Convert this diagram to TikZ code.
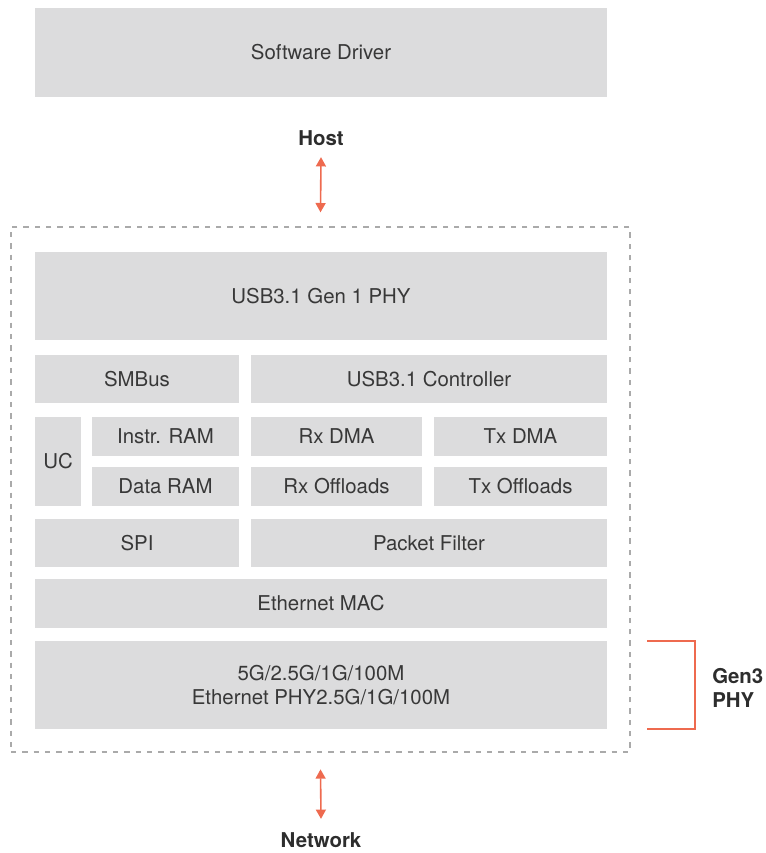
\documentclass[tikz,border=0pt]{standalone}
\usepackage{fontspec}
\setmainfont{TeX Gyre Heros}
\usetikzlibrary{arrows.meta}
\definecolor{blockgray}{HTML}{DCDCDD}
\definecolor{textgray}{HTML}{383838}
\definecolor{accent}{HTML}{EE6A4F}
\definecolor{framegray}{HTML}{AAAAAA}
\tikzset{
  blk/.style={fill=blockgray, draw=none, inner sep=0pt, outer sep=0pt,
    text=textgray, font=\fontsize{15.3}{18}\selectfont, align=center},
  lbl/.style={text=textgray!80!black, font=\fontsize{15.3}{18}\selectfont\bfseries, inner sep=0pt},
  link/.style={draw=accent, line width=1.2pt,
    {Triangle[length=7pt,width=7.5pt]}-{Triangle[length=7pt,width=7.5pt]}},
  frame/.style={draw=framegray, line width=0.8pt, dash pattern=on 4pt off 4.5pt,
    inner sep=0pt, outer sep=0pt},
  brace/.style={draw=accent, line width=0.9pt}
}
% block from corner (x1,y1) to corner (x2,y2), in pixel-like units
\newcommand\blk[6]{\node[blk, minimum width={(#4-#2)*0.75pt},
  minimum height={(#5-#3)*0.75pt}] (#1) at ({(#2+#4)/2},{(#3+#5)/2}) {#6};}
\begin{document}
\begin{tikzpicture}[x=0.75pt, y=-0.75pt]
\useasboundingbox (0,0) rectangle (765,853);

% host side
\blk{driver}{35}{8}{607}{97}{Software Driver}
\node[lbl] (host) at (321,138) {Host};

% device frame
\node[frame, minimum width={619*0.75pt}, minimum height={525*0.75pt}] (frame) at ({(11+630)/2},{(227+752)/2}) {};

\blk{usbphy}{35}{252}{607}{340}{USB3.1 Gen 1 PHY}
\blk{smbus}{35}{355}{239}{403}{SMBus}
\blk{usbctl}{251}{355}{607}{403}{USB3.1 Controller}
\blk{uc}{35}{417}{81}{506}{UC}
\blk{iram}{92}{417}{239}{456}{Instr. RAM}
\blk{dram}{92}{467}{239}{506}{Data RAM}
\blk{rxdma}{251}{417}{422}{456}{Rx DMA}
\blk{txdma}{434}{417}{607}{456}{Tx DMA}
\blk{rxoff}{251}{467}{422}{506}{Rx Offloads}
\blk{txoff}{434}{467}{607}{506}{Tx Offloads}
\blk{spi}{35}{519}{239}{567}{SPI}
\blk{pfilter}{251}{519}{607}{567}{Packet Filter}
\blk{mac}{35}{579}{607}{628}{Ethernet MAC}
\blk{ethphy}{35}{641}{607}{729}{5G/2.5G/1G/100M\\Ethernet PHY2.5G/1G/100M}

% network side
\node[lbl] (net) at (321,840) {Network};

% connectors
\draw[link] ([yshift=-8.5pt]host.south) -- ([yshift=11pt]frame.north);
\draw[link] ([yshift=-13pt]frame.south) -- ([yshift=10pt]net.north);

% bracket marking the PHY block
\coordinate (b1) at (647,641);
\coordinate (b2) at (695,641);
\coordinate (b3) at (695,729);
\coordinate (b4) at (647,729);
\draw[brace] (b1) -- (b2) -- (b3) -- (b4);
\node[lbl, anchor=west, align=left] (gen3) at (712,688) {Gen3\\PHY};
\end{tikzpicture}
\end{document}
